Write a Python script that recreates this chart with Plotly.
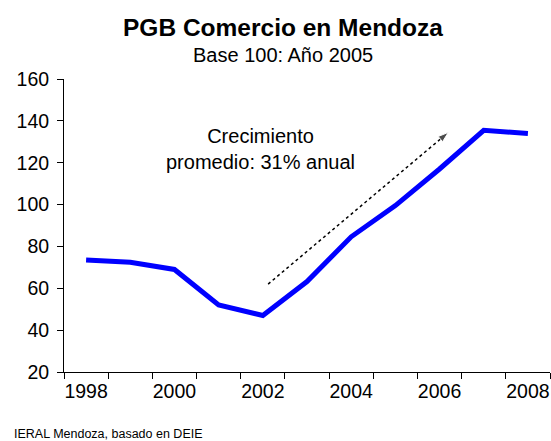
import plotly.graph_objects as go

years = [1998, 1999, 2000, 2001, 2002, 2003, 2004, 2005, 2006, 2007, 2008]
pgb = [73.5, 72.4, 69.0, 52.0, 47.0, 63.2, 84.6, 99.5, 117.0, 135.5, 134.0]
x_ticks = [1998, 2000, 2002, 2004, 2006, 2008]
y_ticks = [20, 40, 60, 80, 100, 120, 140, 160]

FONT = "Liberation Sans, Arial, sans-serif"

fig = go.Figure()
fig.add_trace(go.Scatter(
    x=years, y=pgb, mode="lines",
    line=dict(color="#0000FF", width=5),
    hoverinfo="skip", showlegend=False,
))

# dotted arrow
fig.add_trace(go.Scatter(
    x=[2002.12, 2006.2], y=[62, 134.5], mode="lines+markers",
    line=dict(color="black", width=1.5, dash="dot"),
    marker=dict(symbol="arrow", size=[0, 11], angleref="previous", color="black"),
    hoverinfo="skip", showlegend=False,
))

fig.update_layout(
    width=551, height=441,
    margin=dict(l=64, r=1, t=79, b=69, autoexpand=False),
    paper_bgcolor="white", plot_bgcolor="white",
    font=dict(family=FONT, color="black", size=19),
    xaxis=dict(
        range=[1997.5, 2008.5], tickmode="array", tickvals=x_ticks,
        ticks="", showgrid=False, zeroline=False, automargin=False,
        showline=True, linecolor="black", linewidth=1,
        tickfont=dict(size=19.5), ticklabelstandoff=2,
        minor=dict(ticks="outside", tickmode="linear", tick0=1997.5, dtick=1,
                   ticklen=6, tickcolor="black", showgrid=False),
    ),
    yaxis=dict(
        range=[20, 160], tickmode="array", tickvals=y_ticks,
        ticks="outside", ticklen=6, tickcolor="black",
        showgrid=False, zeroline=False, automargin=False,
        showline=True, linecolor="black", linewidth=1,
        tickfont=dict(size=19.5), ticklabelstandoff=4,
    ),
    annotations=[
        dict(text="<b>PGB Comercio en Mendoza</b>", xref="paper", yref="paper",
             x=0.45, y=1.175, xanchor="center", yanchor="middle",
             showarrow=False, font=dict(size=24.5, family=FONT)),
        dict(text="Base 100: Año 2005", xref="paper", yref="paper",
             x=0.45, y=1.082, xanchor="center", yanchor="middle",
             showarrow=False, font=dict(size=20, family=FONT)),
        dict(text="Crecimiento<br>promedio: 31% anual", xref="paper", yref="paper",
             x=0.405, y=0.761, xanchor="center", yanchor="middle",
             showarrow=False, font=dict(size=20, family=FONT)),
        dict(text="IERAL Mendoza, basado en DEIE", xref="paper", yref="paper",
             x=-0.107, y=-0.21, xanchor="left", yanchor="middle",
             showarrow=False, font=dict(size=12.5, family=FONT)),
    ],
)

fig.write_html("out.html", config={"displayModeBar": False},
               post_script="document.body.style.margin='0';")
